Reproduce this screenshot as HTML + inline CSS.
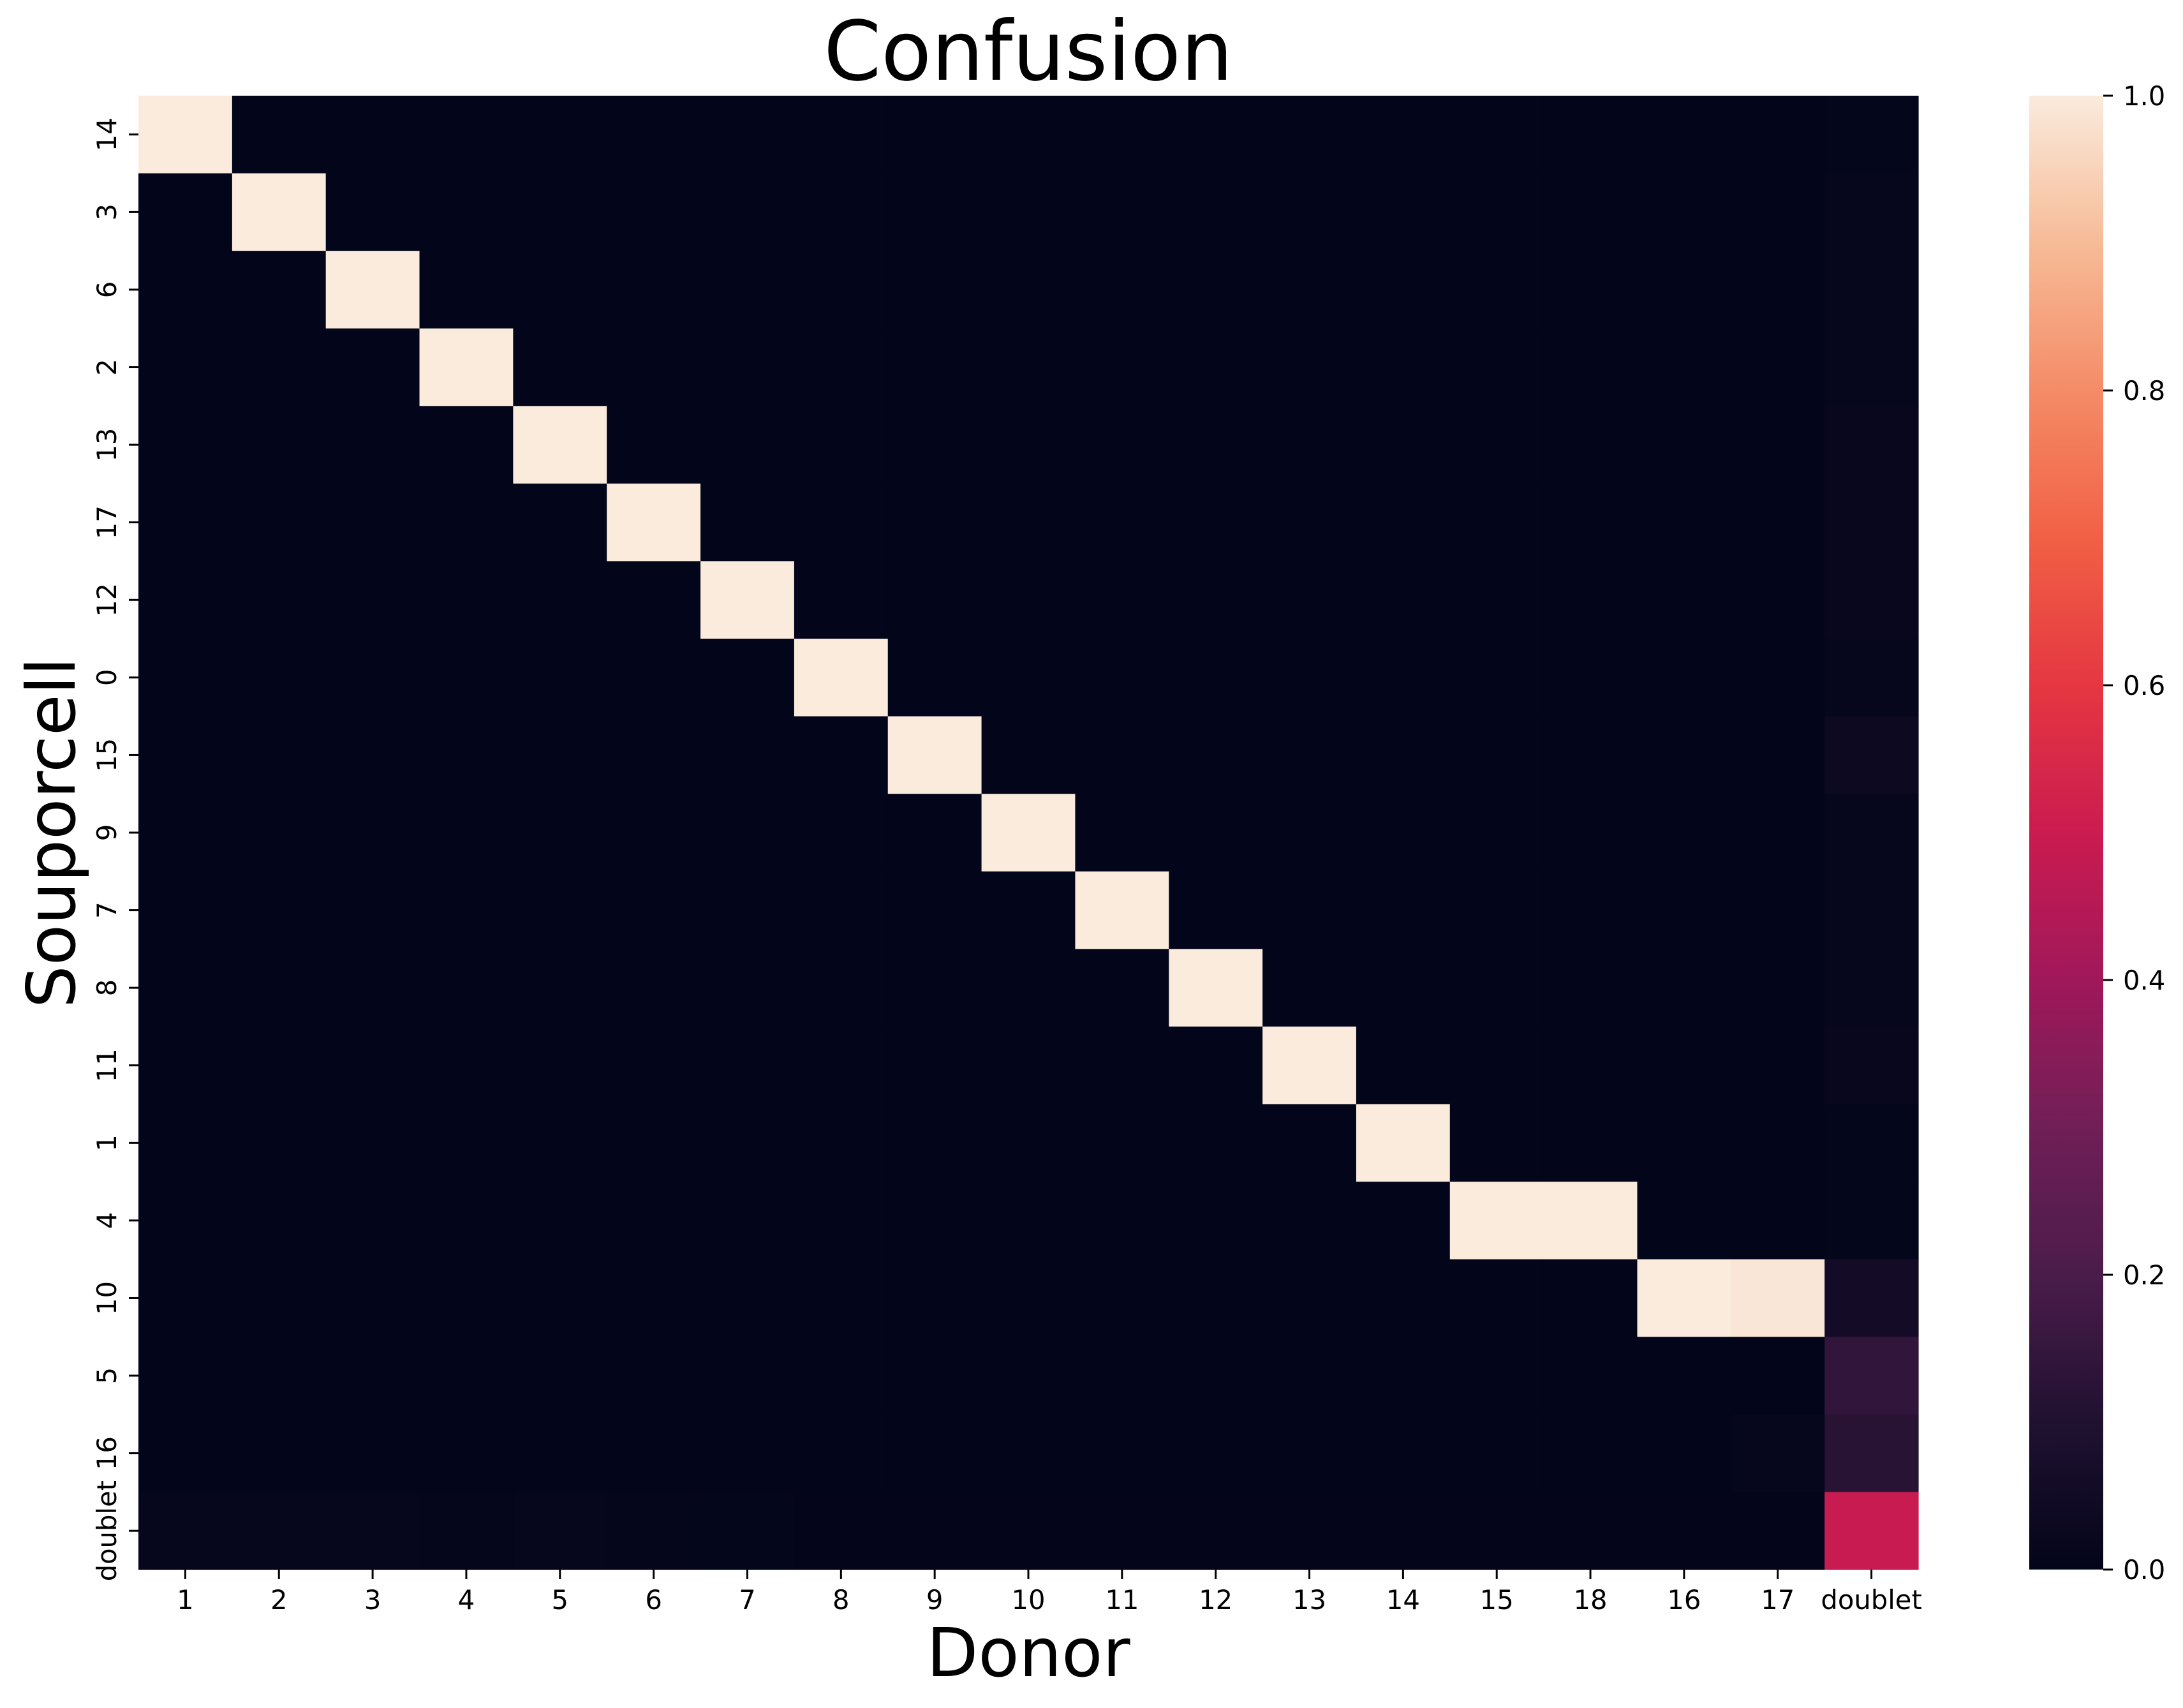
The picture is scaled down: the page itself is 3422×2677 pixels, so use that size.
<!DOCTYPE html>
<html><head><meta charset="utf-8"><title>Confusion</title>
<style>html,body{margin:0;padding:0;background:#fff}svg{display:block}text{font-family:"DejaVu Sans","Liberation Sans",sans-serif;fill:#000}</style>
</head><body>
<svg id="chart" xmlns="http://www.w3.org/2000/svg" width="3422" height="2677" viewBox="0 0 3422 2677">
<defs><linearGradient id="cbgrad" x1="0" y1="1" x2="0" y2="0"></linearGradient></defs>
<rect x="0" y="0" width="3422" height="2677" fill="#fff"/>
<g id="cells"></g>
<g id="xticks"></g>
<g id="yticks"></g>
<rect id="cbar" x="3181" y="150" width="116" height="2310" fill="url(#cbgrad)"/>
<g id="cticks"></g>
<text x="1612" y="125" font-size="129" text-anchor="middle">Confusion</text>
<text x="1612" y="2627" font-size="105" text-anchor="middle">Donor</text>
<text transform="translate(117,1305) rotate(-90)" font-size="105" text-anchor="middle">Souporcell</text>
</svg>
<script>
const donorLabels = ["1","2","3","4","5","6","7","8","9","10","11","12","13","14","15","18","16","17","doublet"];
const soupLabels = ["14","3","6","2","13","17","12","0","15","9","7","8","11","1","4","10","5","16","doublet"];
// matches: [rowIndex, colIndex, value]
const strongCells = [[0,0,1],[1,1,1],[2,2,1],[3,3,1],[4,4,1],[5,5,1],[6,6,1],[7,7,1],[8,8,1],[9,9,1],[10,10,1],[11,11,1],[12,12,1],[13,13,1],[14,14,1],[14,15,1],[15,16,1],[15,17,0.99]];
const doubletColumn = [0.005,0.01,0.01,0.012,0.02,0.02,0.02,0.01,0.03,0.01,0.01,0.01,0.02,0.005,0.005,0.06,0.14,0.12,0.49];
const doubletRow = [0.01,0.01,0.012,0.008,0.012,0.008,0.005,0.003,0.003,0.003,0.003,0.003,0.003,0.003,0.003,0.003,0.003,0.003];
const minorCells = [[17,17,0.01]];
const cbarTicks = [0,0.2,0.4,0.6,0.8,1.0];
const cbarTickLabels = ["0.0","0.2","0.4","0.6","0.8","1.0"];

const stops=[[0,[3,5,26]],[0.1,[32,17,48]],[0.2,[74,28,74]],[0.3,[112,31,87]],[0.4,[160,24,90]],[0.5,[203,27,80]],[0.6,[229,55,65]],[0.7,[241,96,69]],[0.8,[245,140,103]],[0.9,[246,187,151]],[1,[250,235,221]]];
function cmap(v){v=Math.max(0,Math.min(1,v));for(let i=1;i<stops.length;i++){if(v<=stops[i][0]){const a=stops[i-1],b=stops[i],t=(v-a[0])/(b[0]-a[0]);const c=a[1].map((x,k)=>Math.round(x+(b[1][k]-x)*t));return `rgb(${c[0]},${c[1]},${c[2]})`;}}return 'rgb(250,235,221)';}
const X0=217,X1=3007,Y0=150,Y1=2460;
const nC=donorLabels.length,nR=soupLabels.length;
const cw=(X1-X0)/nC,ch=(Y1-Y0)/nR;
const xPos=i=>X0+i*cw, yPos=j=>Y0+j*ch;
const cbY=v=>Y1-v*(Y1-Y0);
const NS="http://www.w3.org/2000/svg";
const grid=[];for(let r=0;r<nR;r++){grid.push(new Array(nC).fill(0));}
strongCells.forEach(c=>grid[c[0]][c[1]]=c[2]);
doubletColumn.forEach((v,r)=>grid[r][nC-1]=v);
doubletRow.forEach((v,c)=>grid[nR-1][c]=v);
minorCells.forEach(c=>grid[c[0]][c[1]]=c[2]);
const cells=document.getElementById('cells');
for(let r=0;r<nR;r++)for(let c=0;c<nC;c++){
 const el=document.createElementNS(NS,'rect');
 el.setAttribute('x',xPos(c));el.setAttribute('y',yPos(r));
 el.setAttribute('width',cw+0.6);el.setAttribute('height',ch+0.6);
 el.setAttribute('fill',cmap(grid[r][c]));
 
 
 cells.appendChild(el);
}
const xt=document.getElementById('xticks');
donorLabels.forEach((l,i)=>{
 const cx=xPos(i)+cw/2;
 const ln=document.createElementNS(NS,'line');
 ln.setAttribute('x1',cx);ln.setAttribute('x2',cx);ln.setAttribute('y1',Y1);ln.setAttribute('y2',Y1+15);
 ln.setAttribute('stroke','#000');ln.setAttribute('stroke-width','3');
 
 
 xt.appendChild(ln);
 const t=document.createElementNS(NS,'text');
 t.setAttribute('x',cx);t.setAttribute('y',2522);t.setAttribute('font-size','41.7');t.setAttribute('text-anchor','middle');
 t.textContent=l;
 
 
 xt.appendChild(t);
});
const yt=document.getElementById('yticks');
soupLabels.forEach((l,j)=>{
 const cy=yPos(j)+ch/2;
 const ln=document.createElementNS(NS,'line');
 ln.setAttribute('x1',X0-15);ln.setAttribute('x2',X0);ln.setAttribute('y1',cy);ln.setAttribute('y2',cy);
 ln.setAttribute('stroke','#000');ln.setAttribute('stroke-width','3');
 
 
 yt.appendChild(ln);
 const t=document.createElementNS(NS,'text');
 t.setAttribute('transform',`translate(182,${cy}) rotate(-90)`);t.setAttribute('font-size','41.7');t.setAttribute('text-anchor','middle');
 t.textContent=l;
 
 
 yt.appendChild(t);
});
const g=document.getElementById('cbgrad');
for(let k=0;k<=50;k++){const s=document.createElementNS(NS,'stop');s.setAttribute('offset',(k/50));s.setAttribute('stop-color',cmap(k/50));g.appendChild(s);}
const ct=document.getElementById('cticks');
cbarTicks.forEach((v,i)=>{
 const y=cbY(v);
 const ln=document.createElementNS(NS,'line');
 ln.setAttribute('x1',3297);ln.setAttribute('x2',3312);ln.setAttribute('y1',y);ln.setAttribute('y2',y);
 ln.setAttribute('stroke','#000');ln.setAttribute('stroke-width','3');
 
 
 ct.appendChild(ln);
 const t=document.createElementNS(NS,'text');
 t.setAttribute('x',3328);t.setAttribute('y',y+15);t.setAttribute('font-size','41.7');
 t.textContent=cbarTickLabels[i];
 
 
 ct.appendChild(t);
});
</script>
</body></html>
